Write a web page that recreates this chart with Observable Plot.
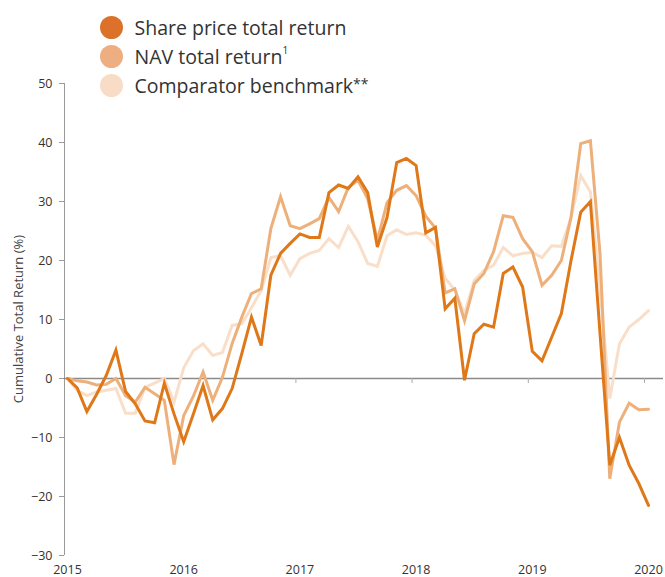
<!DOCTYPE html>
<html><head><meta charset="utf-8">
<script src="https://cdn.jsdelivr.net/npm/d3@7"></script>
<script src="https://cdn.jsdelivr.net/npm/@observablehq/plot@0.6"></script>
<style>
body{margin:0;background:#fff;font-family:"Open Sans",sans-serif;}
#wrap{position:relative;width:665px;height:577px;overflow:hidden;}
#legend{position:absolute;left:100px;top:12.5px;}
.item{display:flex;align-items:center;height:29px;}
.sw{width:23px;height:23px;border-radius:50%;margin-right:11.5px;flex:none;}
.lab{font-size:19.5px;color:#333;white-space:nowrap;line-height:29px;}
.lab sup{font-size:10px;vertical-align:10px;line-height:0;}
.lab .ast{font-size:14px;vertical-align:4px;line-height:0;}
#ylabel{position:absolute;left:18px;top:319px;transform:translate(-50%,-50%) rotate(-90deg);font-size:13px;color:#444;white-space:nowrap;}
</style></head><body>
<div id="wrap"><div id="chart"></div><div id="legend"></div><div id="ylabel"></div></div>
<script>
// Month offsets from January 2015 (monthly observations, Jan 2015 .. Jan 2020)
const startYear = 2015;
const monthOffsets = d3.range(61);
const yearTicks = [2015, 2016, 2017, 2018, 2019, 2020];
const yTicks = [-30, -20, -10, 0, 10, 20, 30, 40, 50];
const yLabel = "Cumulative Total Return (%)";

const seriesNames = ["Share price total return", "NAV total return", "Comparator benchmark**"];
const legendLabels = ["Share price total return", "NAV total return<sup>1</sup>", "Comparator benchmark<span class=\"ast\">**</span>"];
const lineColors = ["#df7818", "#eeb07a", "#f9dfc9"];
const legendColors = ["#dc7229", "#edaf82", "#f8dcc6"];

const sharePrice = [0, -1.6, -5.6, -2.7, 0.5, 4.8, -2.2, -4.3, -7.2, -7.5, -0.8, -6,
  -10.7, -6, -1.2, -7, -5.1, -1.7, 4.2, 10.4, 5.6, 17.5, 21.2, 22.9,
  24.5, 23.9, 23.9, 31.5, 32.8, 32.2, 34.2, 31.5, 22.3, 27.3, 36.6, 37.3,
  36.1, 24.7, 25.6, 11.8, 13.6, -0.3, 7.6, 9.2, 8.7, 17.8, 18.9, 15.5,
  4.6, 3, 7, 11, 20, 28.2, 30, 7.5, -14.7, -10, -14.7, -17.8, -21.5];

const navReturn = [0, -0.4, -0.6, -1.1, -1, 0, -2.9, -4, -1.5, -2.6, -3.7, -14.6,
  -6.3, -3, 1.1, -3.7, 0.2, 5.9, 10.4, 14.4, 15.2, 25.4, 30.8, 25.9,
  25.4, 26.2, 27.1, 30.7, 28.3, 32.4, 33.6, 30.5, 23.4, 29.8, 31.9, 32.7,
  31, 27.5, 25.5, 14.5, 15.2, 9.8, 16, 17.8, 21.5, 27.6, 27.3, 23.7,
  21.5, 15.8, 17.5, 20, 27.3, 39.8, 40.3, 21, -17, -7.4, -4.2, -5.3, -5.2];

const benchmark = [0, -2, -2.9, -2.3, -2, -1.7, -5.9, -5.9, -1.5, -0.8, 0, -4,
  1.8, 4.7, 5.9, 3.9, 4.4, 9, 9.3, 12, 14.9, 20.5, 20.8, 17.5,
  20.3, 21.2, 21.7, 23.7, 22.2, 25.8, 23.2, 19.5, 19, 24.2, 25.2, 24.4,
  24.7, 24.3, 22.5, 17, 15, 11, 16.6, 18.3, 19.2, 22.2, 20.8, 21.2,
  21.4, 20.5, 22.5, 22.4, 27.3, 34.4, 31.6, 15, -3.4, 5.9, 8.7, 10, 11.5];

const seriesValues = [sharePrice, navReturn, benchmark];

// long table, drawn bottom (benchmark) to top (share price)
const drawOrder = [2, 1, 0];
const rows = [];
for (const s of drawOrder) {
  monthOffsets.forEach((m, i) => rows.push({series: seriesNames[s], t: startYear + m / 12, v: seriesValues[s][i]}));
}

const chart = Plot.plot({
  width: 665,
  height: 577,
  marginLeft: 64,
  marginRight: 17,
  marginTop: 83,
  marginBottom: 22,
  style: {fontFamily: "'Open Sans', sans-serif", fontSize: "12.5px", color: "#333", background: "#fff"},
  x: {domain: [2015, 2020], insetLeft: 3, axis: null},
  y: {domain: [-30, 50], axis: null},
  color: {domain: seriesNames, range: lineColors},
  marks: [
    Plot.axisY({ticks: yTicks, tickSize: 5, tickPadding: 7, label: null, stroke: "#9a9a9a"}),
    Plot.ruleX([yearTicks[0]], {x: d => d, y1: yTicks[0], y2: yTicks[yTicks.length - 1], dx: -3, stroke: "#9a9a9a"}),
    Plot.axisX({ticks: yearTicks, tickSize: 0, tickPadding: 9.5, tickFormat: d => String(d), label: null}),
    Plot.ruleY([0], {stroke: "#8a8a8a", strokeWidth: 1.3, insetRight: -15}),
    Plot.ruleX(yearTicks.slice(1), {x: d => d, y1: 0, y2: -0.85, dx: -4, stroke: "#aaa"}),
    Plot.line(rows, {x: "t", y: "v", z: "series", stroke: "series", strokeWidth: 3, strokeLinejoin: "miter", strokeMiterlimit: 4})
  ]
});
document.getElementById("chart").appendChild(chart);
document.getElementById("ylabel").textContent = yLabel;

const legend = document.getElementById("legend");
seriesNames.forEach((name, i) => {
  const item = document.createElement("div");
  item.className = "item";
  item.innerHTML = `<span class="sw" style="background:${legendColors[i]}"></span><span class="lab">${legendLabels[i]}</span>`;
  legend.appendChild(item);
});
</script>
</body></html>
